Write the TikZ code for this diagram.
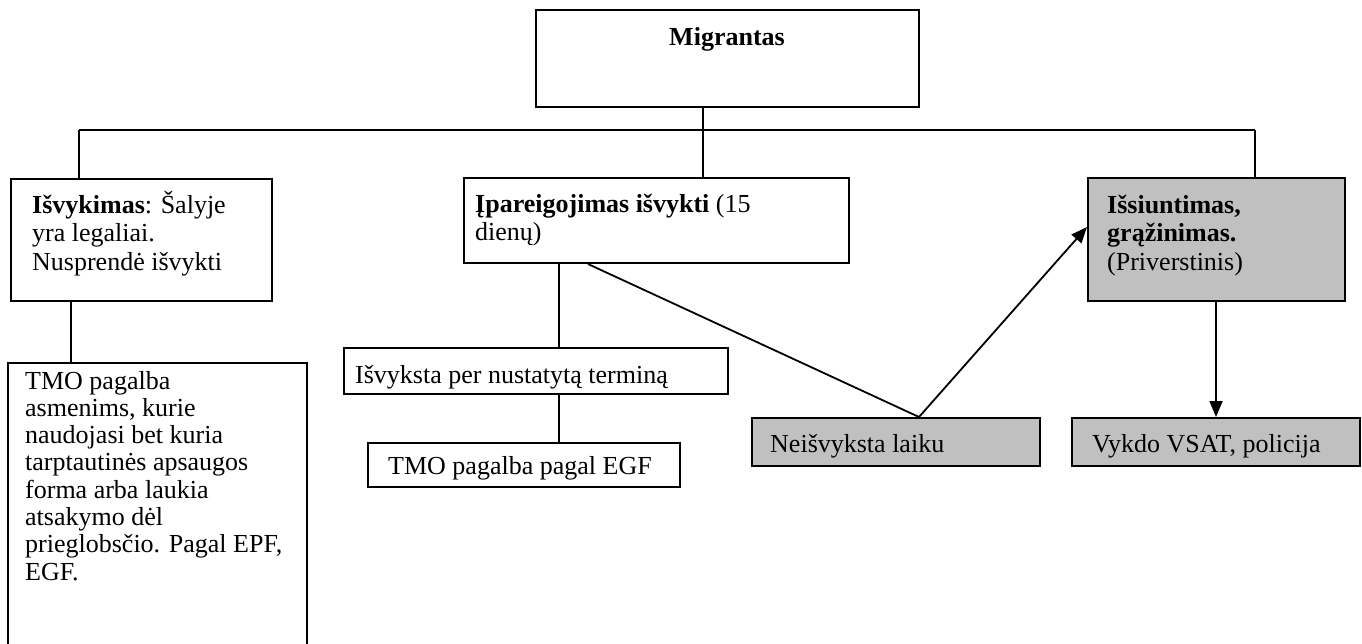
\documentclass[tikz,border=0pt]{standalone}
\usepackage{fontspec}
\setmainfont{Liberation Serif}
\usetikzlibrary{arrows.meta}
\definecolor{boxgray}{RGB}{192,192,192}
\tikzset{
  box/.style={draw=black, line width=2pt, inner sep=0pt, anchor=north west},
  graybox/.style={box, fill=boxgray},
  txt/.style={anchor=base west, inner sep=0pt, font=\fontsize{26}{28.5}\selectfont},
  conn/.style={draw=black, line width=1.8pt},
  arr/.style={conn, -{Triangle[length=16pt,width=13pt]}}
}
\newcommand{\pbx}[2]{\parbox[t]{#1pt}{\raggedright #2}}
\begin{document}
\begin{tikzpicture}[x=1pt,y=-1pt]
\fill[white] (0,0) rectangle (1362,643);
\useasboundingbox (0,0) rectangle (1362,643);
\begin{scope}
\clip (0,0) rectangle (1362,643);
% boxes
\node[box, minimum width=383pt, minimum height=97pt] (mig) at (535,9) {};
\node[box, minimum width=261pt, minimum height=122pt] (isv) at (10,178) {};
\node[box, minimum width=385pt, minimum height=85pt] (ipa) at (463,177) {};
\node[graybox, minimum width=257pt, minimum height=123pt] (iss) at (1087,177) {};
\node[box, minimum width=299pt, minimum height=320pt] (tmoa) at (7,362) {};
\node[box, minimum width=384pt, minimum height=46pt] (isvy) at (343,347) {};
\node[box, minimum width=312pt, minimum height=44pt] (tmob) at (367,442) {};
\node[graybox, minimum width=288pt, minimum height=48pt] (nei) at (751,417) {};
\node[graybox, minimum width=288pt, minimum height=48pt] (vyk) at (1071,417) {};
\end{scope}
% texts
\node[txt, anchor=base] (tmig) at (727,45) {\textbf{Migrantas}};
\node[txt] (tisv) at (32,213) {\pbx{240}{\textbf{Išvykimas}: Šalyje\\yra legaliai.\\Nusprendė išvykti}};
\node[txt] (tipa) at (475,212) {\pbx{370}{\textbf{Įpareigojimas išvykti} (15\\dienų)}};
\node[txt] (tiss) at (1107,213) {\pbx{230}{\textbf{Išsiuntimas,}\\\textbf{grąžinimas.}\\(Priverstinis)}};
\node[txt, font=\fontsize{26}{27.3}\selectfont] (ttmoa) at (25,389) {\pbx{280}{TMO pagalba\\asmenims, kurie\\naudojasi bet kuria\\tarptautinės apsaugos\\forma arba laukia\\atsakymo dėl\\prieglobsčio. Pagal EPF,\\EGF.}};
\node[txt] (tisvy) at (355,383) {Išvyksta per nustatytą terminą};
\node[txt] (ttmob) at (388,474) {TMO pagalba pagal EGF};
\node[txt] (tnei) at (770,452) {Neišvyksta laiku};
\node[txt] (tvyk) at (1092,452) {Vykdo VSAT, policija};
% connectors
\coordinate (j) at (703,130);
\coordinate (hl) at (79,130);
\coordinate (hr) at (1255,130);
\coordinate (c1) at (71,0);
\coordinate (c2) at (559,0);
\coordinate (d1) at (588,0);
\coordinate (d2) at (919,0);
\coordinate (a1) at (0,227);
\coordinate (c3) at (1216,0);
\draw[conn] (mig.south -| j) -- (j);
\draw[conn] (hl) -- (hr);
\draw[conn] (hl) -- (hl |- isv.north);
\draw[conn] (j) -- (j |- ipa.north);
\draw[conn] (hr) -- (hr |- iss.north);
\draw[conn] (c1 |- isv.south) -- (c1 |- tmoa.north);
\draw[conn] (c2 |- ipa.south) -- (c2 |- isvy.north);
\draw[conn] (c2 |- isvy.south) -- (c2 |- tmob.north);
\draw[conn] (d1 |- ipa.south) -- (d2 |- nei.north);
\draw[arr] (d2 |- nei.north) -- (iss.west |- a1);
\draw[arr] (c3 |- iss.south) -- (c3 |- vyk.north);
\end{tikzpicture}
\end{document}
